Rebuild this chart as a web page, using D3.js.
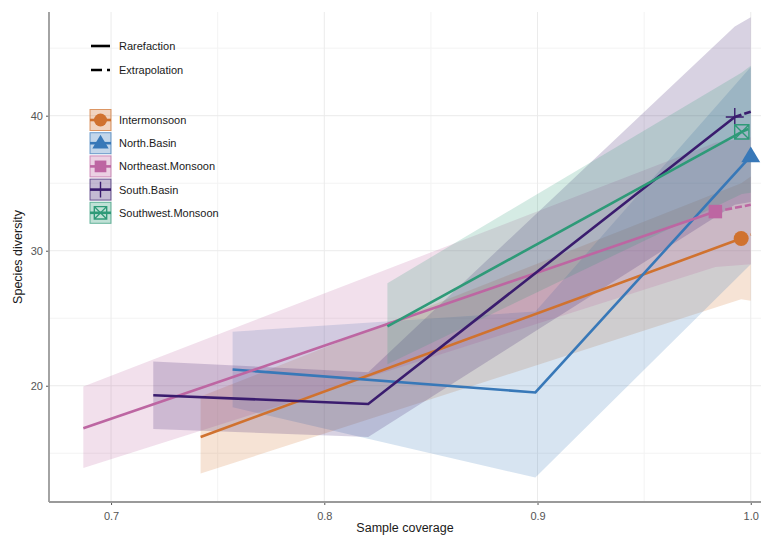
<!DOCTYPE html>
<html>
<head>
<meta charset="utf-8">
<script src="https://cdn.jsdelivr.net/npm/d3@7"></script>
<style>
  html, body { margin: 0; padding: 0; background: #fff; }
  svg { display: block; font-family: "Liberation Sans", Arial, sans-serif; }
</style>
</head>
<body>
<svg id="chart" width="761" height="538"></svg>
<script>
// ---------------- data ----------------
const categories = ["Intermonsoon", "North.Basin", "Northeast.Monsoon", "South.Basin", "Southwest.Monsoon"];
const colors = ["#D0722F", "#3878B8", "#BD66A2", "#3A1C6E", "#2E9A78"];
const shapes = ["circle", "triangle", "square", "plus", "squarex"];

// sample coverage, estimate, lower CI, upper CI, index of observed point
const interCov   = [0.742, 0.9955, 1.0];
const interQD    = [16.2, 30.9, 31.2];
const interLo    = [13.5, 26.4, 26.3];
const interHi    = [19.2, 35.0, 35.5];
const interObs   = 1;

const northCov   = [0.757, 0.899, 1.0];
const northQD    = [21.2, 19.5, 37.0];
const northLo    = [18.4, 13.2, 29.0];
const northHi    = [24.0, 25.5, 43.6];
const northObs   = 2;

const neCov      = [0.687, 0.9834, 1.0];
const neQD       = [16.85, 32.9, 33.4];
const neLo       = [13.9, 28.8, 29.0];
const neHi       = [19.95, 38.0, 38.4];
const neObs      = 1;

const southCov   = [0.7198, 0.8206, 0.9925, 1.0];
const southQD    = [19.3, 18.65, 39.9, 40.3];
const southLo    = [16.8, 16.2, 33.4, 33.6];
const southHi    = [21.8, 21.0, 46.6, 47.3];
const southObs   = 2;

const swCov      = [0.8296, 0.9958, 1.0];
const swQD       = [24.4, 38.8, 39.1];
const swLo       = [21.6, 34.2, 34.3];
const swHi       = [27.6, 43.2, 43.7];
const swObs      = 1;

const xTicks = [0.7, 0.8, 0.9, 1.0];
const xTickLabels = ["0.7", "0.8", "0.9", "1.0"];
const yTicks = [20, 30, 40];
const xMinor = [0.75, 0.85, 0.95];
const yMinor = [15, 25, 35, 45];
const lineTypes = ["Rarefaction", "Extrapolation"];

const seriesData = [
  [interCov, interQD, interLo, interHi, interObs],
  [northCov, northQD, northLo, northHi, northObs],
  [neCov, neQD, neLo, neHi, neObs],
  [southCov, southQD, southLo, southHi, southObs],
  [swCov, swQD, swLo, swHi, swObs]
].map((s, i) => ({
  name: categories[i], color: colors[i], shape: shapes[i], obs: s[4],
  pts: s[0].map((c, j) => ({ x: c, y: s[1][j], lo: s[2][j], hi: s[3][j] }))
}));

// ---------------- layout ----------------
const svg = d3.select("#chart");
const pL = 49, pR = 761, pT = 12, pB = 502;
const x = d3.scaleLinear().domain([0.6709, 1.0048]).range([pL, pR]);
const y = d3.scaleLinear().domain([11.39, 47.68]).range([pB, pT]);

// gridlines
const grid = svg.append("g");
xMinor.forEach(v => grid.append("line").attr("x1", x(v)).attr("x2", x(v)).attr("y1", pT).attr("y2", pB)
  .attr("stroke", "#F3F3F3").attr("stroke-width", 1));
yMinor.forEach(v => grid.append("line").attr("x1", pL).attr("x2", pR).attr("y1", y(v)).attr("y2", y(v))
  .attr("stroke", "#F3F3F3").attr("stroke-width", 1));
xTicks.forEach(v => grid.append("line").attr("x1", x(v)).attr("x2", x(v)).attr("y1", pT).attr("y2", pB)
  .attr("stroke", "#EBEBEB").attr("stroke-width", 1));
yTicks.forEach(v => grid.append("line").attr("x1", pL).attr("x2", pR).attr("y1", y(v)).attr("y2", y(v))
  .attr("stroke", "#EBEBEB").attr("stroke-width", 1));

// ribbons
const area = d3.area().x(d => x(d.x)).y0(d => y(d.lo)).y1(d => y(d.hi));
const bands = svg.append("g");
seriesData.forEach(s => {
  bands.append("path").datum(s.pts).attr("d", area)
    .attr("fill", s.color).attr("fill-opacity", 0.2);
});

// lines
const line = d3.line().x(d => x(d.x)).y(d => y(d.y));
const lines = svg.append("g");
seriesData.forEach(s => {
  const rare = s.pts.slice(0, s.obs + 1);
  const extra = s.pts.slice(s.obs);
  lines.append("path").datum(rare).attr("d", line)
    .attr("fill", "none").attr("stroke", s.color).attr("stroke-width", 2.6).attr("stroke-linejoin", "miter");
  if (extra.length > 1) {
    lines.append("path").datum(extra).attr("d", line)
      .attr("fill", "none").attr("stroke", s.color).attr("stroke-width", 2.6)
      .attr("stroke-dasharray", "7,3").attr("stroke-dashoffset", -10);
  }
});

// markers
function drawShape(g, shape, cx, cy, color, r) {
  if (shape === "circle") {
    g.append("circle").attr("cx", cx).attr("cy", cy).attr("r", r).attr("fill", color);
  } else if (shape === "triangle") {
    const h = r * 2.1;
    g.append("path").attr("d", `M${cx},${cy - h * 0.62}L${cx + h * 0.6},${cy + h * 0.38}L${cx - h * 0.6},${cy + h * 0.38}Z`).attr("fill", color);
  } else if (shape === "square") {
    g.append("rect").attr("x", cx - r * 0.9).attr("y", cy - r * 0.9).attr("width", r * 1.8).attr("height", r * 1.8).attr("fill", color);
  } else if (shape === "plus") {
    g.append("path").attr("d", `M${cx - r * 1.2},${cy}H${cx + r * 1.2}M${cx},${cy - r * 1.2}V${cy + r * 1.2}`)
      .attr("stroke", color).attr("stroke-width", 1.4).attr("fill", "none");
  } else if (shape === "squarex") {
    const a = r * 0.95;
    g.append("path").attr("d", `M${cx - a},${cy - a}H${cx + a}V${cy + a}H${cx - a}ZM${cx - a},${cy - a}L${cx + a},${cy + a}M${cx + a},${cy - a}L${cx - a},${cy + a}`)
      .attr("stroke", color).attr("stroke-width", 1.4).attr("fill", "none");
  }
}
const marks = svg.append("g");
seriesData.forEach(s => {
  const p = s.pts[s.obs];
  drawShape(marks, s.shape, x(p.x), y(p.y), s.color, 7.5);
});

// axes
const xAxis = svg.append("g").attr("transform", `translate(0,${pB})`)
  .call(d3.axisBottom(x).tickValues(xTicks).tickFormat((d, i) => xTickLabels[i]).tickSize(3).tickSizeOuter(0));
const yAxis = svg.append("g").attr("transform", `translate(${pL},0)`)
  .call(d3.axisLeft(y).tickValues(yTicks).tickSize(3).tickSizeOuter(0));
[xAxis, yAxis].forEach(a => {
  a.select(".domain").remove();
  a.selectAll(".tick line").attr("stroke", "#555");
  a.selectAll(".tick text").attr("fill", "#555").attr("font-size", 11).attr("font-family", "Liberation Sans, Arial, sans-serif");
});
xAxis.selectAll(".tick text").attr("dy", "1.05em");
svg.append("line").attr("x1", pL).attr("x2", pR).attr("y1", pB).attr("y2", pB)
  .attr("stroke", "#9A9A9A").attr("stroke-width", 1.8);
svg.append("line").attr("x1", pL).attr("x2", pL).attr("y1", pT).attr("y2", pB)
  .attr("stroke", "#9A9A9A").attr("stroke-width", 1.8);

svg.append("text").attr("x", (pL + pR) / 2).attr("y", 532).attr("text-anchor", "middle")
  .attr("font-size", 12.5).attr("fill", "#1a1a1a").text("Sample coverage");
svg.append("text").attr("transform", `translate(22,${(pT + pB) / 2}) rotate(-90)`).attr("text-anchor", "middle")
  .attr("font-size", 12.5).attr("fill", "#1a1a1a").text("Species diversity");

// legend: line types
const lg = svg.append("g");
lineTypes.forEach((t, i) => {
  const yy = 46 + i * 24;
  const l = lg.append("line").attr("x1", 91).attr("x2", 110).attr("y1", yy).attr("y2", yy)
    .attr("stroke", "#000").attr("stroke-width", 2.6);
  if (i === 1) l.attr("stroke-dasharray", "11,5");
  lg.append("text").attr("x", 119).attr("y", yy + 4).attr("font-size", 11).attr("fill", "#1a1a1a").text(t);
});
// legend: series
seriesData.forEach((s, i) => {
  const cy = 120 + i * 23.2;
  const kg = lg.append("g");
  kg.append("rect").attr("x", 90).attr("y", cy - 10.5).attr("width", 21).attr("height", 21)
    .attr("fill", s.color).attr("fill-opacity", 0.3).attr("stroke", s.color).attr("stroke-opacity", 0.7).attr("stroke-width", 1);
  kg.append("line").attr("x1", 90).attr("x2", 111).attr("y1", cy).attr("y2", cy)
    .attr("stroke", s.color).attr("stroke-width", 2.6);
  drawShape(kg, s.shape, 100.5, cy, s.color, 6.5);
  lg.append("text").attr("x", 119).attr("y", cy + 4).attr("font-size", 11).attr("fill", "#1a1a1a").text(s.name);
});
</script>
</body>
</html>
